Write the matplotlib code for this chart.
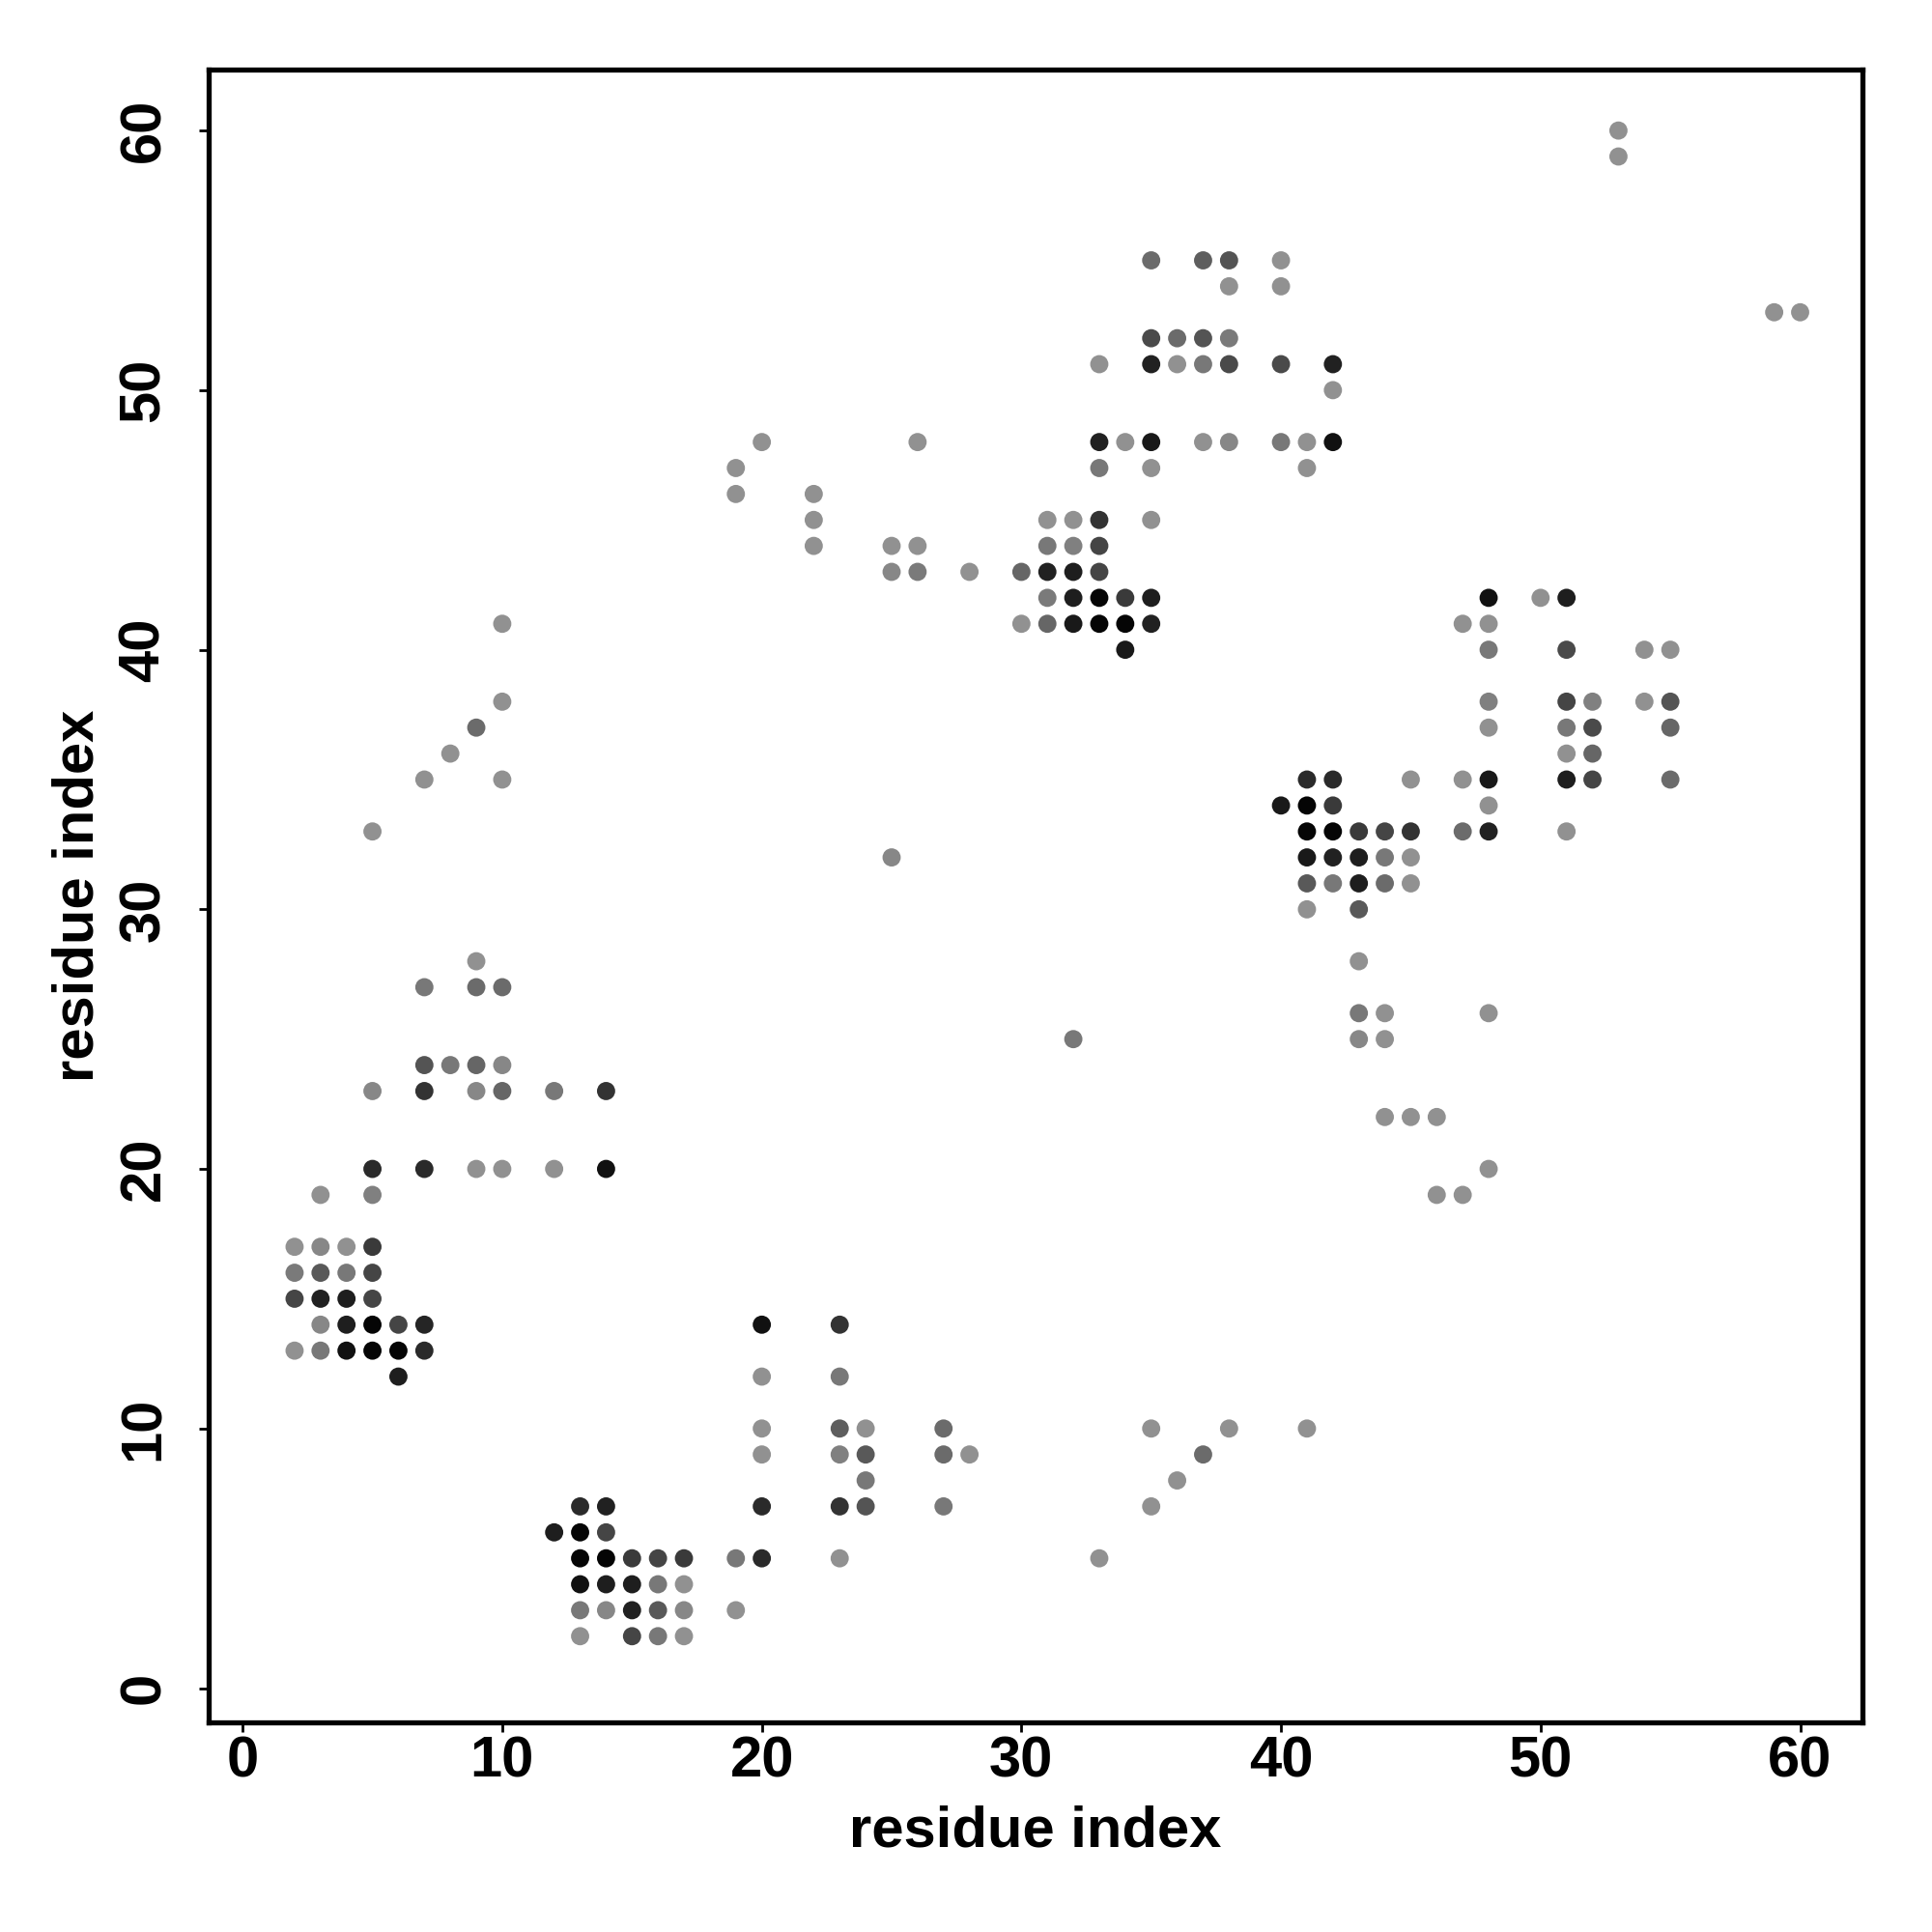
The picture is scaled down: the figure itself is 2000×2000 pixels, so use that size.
import numpy as np
import matplotlib
matplotlib.use('agg')
import matplotlib.pyplot as plt

plt.rcParams['font.family'] = 'Liberation Sans'
plt.rcParams['font.weight'] = 'bold'

# contact map: residue i, residue j, grey level of the dot (0 = black, 1 = white)
res_i = [5, 7, 9, 10, 12, 14, 3, 5,
         2, 3, 4, 5, 2, 3, 4, 5, 2, 3, 4, 5,
         3, 4, 5, 6, 7, 2, 3, 4, 5, 6, 7, 6,
         10, 10, 9, 8, 7, 10, 5, 9, 7, 9, 10,
         7, 8, 9, 10, 5, 7, 9, 10, 12, 14,
         13, 14, 12, 13, 14, 13, 14, 15, 16, 17, 19, 20,
         13, 14, 15, 16, 17, 13, 14, 15, 16, 17, 19, 13, 15, 16, 17,
         20, 23, 20, 23, 20, 23, 24, 27, 35, 38, 41,
         20, 23, 24, 27, 28, 37, 24, 36, 20, 23, 24, 27, 35, 23, 33,
         20, 26, 19, 19, 22, 22, 22, 25, 26, 25, 26, 28,
         31, 32, 33, 35, 31, 32, 33, 30, 31, 32, 33,
         31, 32, 33, 34, 35, 30, 31, 32, 33, 34, 35, 34,
         33, 34, 35, 37, 38, 40, 41, 42, 33, 35, 41,
         33, 35, 36, 37, 38, 40, 42, 42, 35, 36, 37, 38,
         35, 37, 38, 40, 38, 40, 53, 53, 59, 60,
         48, 50, 51, 47, 48, 48, 51, 54, 55, 48, 51, 52, 54, 55,
         48, 51, 52, 55, 51, 52, 41, 42, 45, 47, 48, 51, 52, 55,
         40, 41, 42, 48, 41, 42, 43, 44, 45, 47, 48, 51,
         41, 42, 43, 44, 45, 41, 42, 43, 44, 45, 41, 43, 43,
         43, 44, 48, 43, 44, 44, 45, 46, 48, 46, 47, 32, 25]

res_j = [20, 20, 20, 20, 20, 20, 19, 19,
         17, 17, 17, 17, 16, 16, 16, 16, 15, 15, 15, 15,
         14, 14, 14, 14, 14, 13, 13, 13, 13, 13, 13, 12,
         41, 38, 37, 36, 35, 35, 33, 28, 27, 27, 27,
         24, 24, 24, 24, 23, 23, 23, 23, 23, 23,
         7, 7, 6, 6, 6, 5, 5, 5, 5, 5, 5, 5,
         4, 4, 4, 4, 4, 3, 3, 3, 3, 3, 3, 2, 2, 2, 2,
         14, 14, 12, 12, 10, 10, 10, 10, 10, 10, 10,
         9, 9, 9, 9, 9, 9, 8, 8, 7, 7, 7, 7, 7, 5, 5,
         48, 48, 47, 46, 46, 45, 44, 44, 44, 43, 43, 43,
         45, 45, 45, 45, 44, 44, 44, 43, 43, 43, 43,
         42, 42, 42, 42, 42, 41, 41, 41, 41, 41, 41, 40,
         48, 48, 48, 48, 48, 48, 48, 48, 47, 47, 47,
         51, 51, 51, 51, 51, 51, 51, 50, 52, 52, 52, 52,
         55, 55, 55, 55, 54, 54, 60, 59, 53, 53,
         42, 42, 42, 41, 41, 40, 40, 40, 40, 38, 38, 38, 38, 38,
         37, 37, 37, 37, 36, 36, 35, 35, 35, 35, 35, 35, 35, 35,
         34, 34, 34, 34, 33, 33, 33, 33, 33, 33, 33, 33,
         32, 32, 32, 32, 32, 31, 31, 31, 31, 31, 30, 30, 28,
         26, 26, 26, 25, 25, 22, 22, 22, 20, 19, 19, 25, 32]

grey = [.165, .165, .57, .57, .57, .07, .57, .5,
        .57, .53, .57, .23, .48, .35, .47, .27, .27, .13, .12, .27,
        .53, .12, .02, .27, .145, .57, .47, .07, .02, .02, .165, .12,
        .57, .57, .42, .57, .57, .57, .57, .57, .47, .42, .42,
        .33, .47, .4, .53, .53, .2, .53, .4, .47, .2,
        .165, .13, .12, .02, .27, .02, .02, .23, .27, .23, .47, .165,
        .07, .12, .12, .47, .57, .47, .53, .13, .35, .53, .57, .57, .27, .47, .57,
        .07, .2, .57, .47, .57, .37, .57, .42, .57, .57, .57,
        .57, .5, .35, .42, .57, .42, .47, .57, .165, .2, .33, .47, .57, .57, .57,
        .57, .57, .57, .57, .57, .57, .57, .57, .57, .53, .48, .57,
        .57, .57, .2, .57, .47, .5, .27, .4, .13, .12, .27,
        .48, .12, .02, .23, .12, .57, .4, .1, .02, .02, .13, .1,
        .13, .57, .1, .57, .53, .47, .57, .07, .47, .57, .57,
        .57, .13, .57, .47, .29, .29, .13, .57, .29, .42, .33, .48,
        .42, .37, .33, .57, .57, .57, .57, .57, .57, .57,
        .07, .57, .12, .57, .57, .47, .29, .57, .57, .5, .27, .5, .57, .33,
        .57, .47, .29, .4, .57, .4, .165, .165, .57, .57, .1, .12, .27, .42,
        .1, .02, .23, .57, .02, .02, .23, .27, .2, .42, .13, .57,
        .1, .13, .12, .47, .57, .35, .47, .12, .42, .57, .57, .35, .57,
        .47, .57, .57, .53, .57, .57, .57, .57, .57, .57, .57, .47, .53]

fig = plt.figure(figsize=(10, 10), dpi=200)
ax = fig.add_axes([0.108, 0.1085, 0.856, 0.8555])

ax.scatter(res_i, res_j, c=grey, cmap='gray', vmin=0, vmax=1,
           s=46, linewidths=0)

ax.set_xlim(-1.31, 62.4)
ax.set_ylim(-1.32, 62.35)
ax.set_xticks(np.arange(0, 61, 10))
ax.set_yticks(np.arange(0, 61, 10))

for sp in ax.spines.values():
    sp.set_linewidth(1.9)

ax.tick_params(axis='both', direction='out', length=3.5, width=1.0,
               labelsize=21.5)
ax.tick_params(axis='x', pad=1.5)
ax.tick_params(axis='y', pad=10.5)
for lab in ax.get_yticklabels():
    lab.set_rotation(90)
    lab.set_va('center')

ax.set_xlabel('residue index', fontsize=21.5, fontweight='bold', labelpad=6)
ax.set_ylabel('residue index', fontsize=21.5, fontweight='bold', labelpad=5)

fig.savefig('out.png', dpi=200)
